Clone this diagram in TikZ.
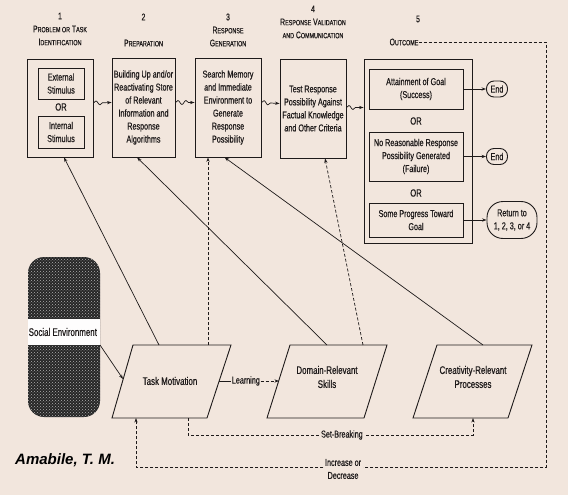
\documentclass[tikz,border=0pt]{standalone}
\usepackage{fontspec}
\setmainfont{Liberation Sans}
\newfontfamily\cond[FakeStretch=0.72,FakeBold=0.5]{Liberation Sans}
\usetikzlibrary{arrows.meta,calc,decorations.pathmorphing,patterns}
\definecolor{bg}{RGB}{242,230,221}
\definecolor{ink}{RGB}{30,26,26}
\newcommand\smc[2]{{\fontsize{9.5}{10}\selectfont #1}{\fontsize{7.5}{10}\selectfont #2}}
\begin{document}
\begin{tikzpicture}[x=1pt,y=-1pt,
  every node/.style={text=ink},
  tip/.style={-{Stealth[length=4.5pt,width=3.2pt]}},
  ln/.style={draw=ink, line width=0.7pt},
  dsh/.style={ln, dash pattern=on 3pt off 2pt},
  box/.style={draw=ink, line width=0.9pt, inner sep=0pt, align=center, font=\cond\fontsize{10}{13}\selectfont},
  hdr/.style={align=center, font=\cond\fontsize{9.5}{13}\selectfont, inner sep=0pt},
  txt/.style={align=center, font=\cond\fontsize{10.5}{13}\selectfont, inner sep=0pt},
  ptxt/.style={align=center, font=\cond\fontsize{11}{14}\selectfont, inner sep=0pt},
  lbl/.style={font=\cond\fontsize{10}{13}\selectfont, fill=bg, inner sep=1.5pt, align=center},
  wavy/.style={ln, tip, decorate, decoration={snake, amplitude=2pt, segment length=8pt, post length=6pt}},
  para/.style={draw=ink, line width=0.9pt}
]
\fill[bg] (0,0) rectangle (568,495);
\useasboundingbox (0,0) rectangle (568,495);

% headers
\node[hdr] (h1) at (60,29) {1\\\smc{P}{ROBLEM OR} \smc{T}{ASK}\\\smc{I}{DENTIFICATION}};
\node[hdr] (h2) at (143.5,30) {2\\[13pt]\smc{P}{REPARATION}};
\node[hdr] (h3) at (228,30) {3\\\smc{R}{ESPONSE}\\\smc{G}{ENERATION}};
\node[hdr] (h4) at (313,22) {4\\\smc{R}{ESPONSE} \smc{V}{ALIDATION}\\{\fontsize{7.5}{10}\selectfont AND} \smc{C}{OMMUNICATION}};
\node[hdr] (h5n) at (418,19) {5};
\node[hdr] (h5) at (404,42) {\smc{O}{UTCOME}};

% column boxes
\node[box, minimum width=66pt, minimum height=98pt] (b1) at (60,108) {};
\node[box, minimum width=46pt, minimum height=31pt] (ext) at (61,83.5) {External\\Stimulus};
\node[txt] (or1) at (61,107) {OR};
\node[box, minimum width=46pt, minimum height=32pt] (int) at (61,132) {Internal\\Stimulus};

\node[box, minimum width=63pt, minimum height=99pt] (b2) at (143.5,107.5) {Building Up and/or\\Reactivating Store\\of Relevant\\Information and\\Response\\Algorithms};
\node[box, minimum width=66pt, minimum height=99pt] (b3) at (228,107.5) {Search Memory\\and Immediate\\Environment to\\Generate\\Response\\Possibility};
\node[box, minimum width=66pt, minimum height=99pt] (b4) at (313,108.5) {Test Response\\Possibility Against\\Factual Knowledge\\and Other Criteria};

\node[box, minimum width=108pt, minimum height=184pt] (b5) at (418,151) {};
\node[box, minimum width=94pt, minimum height=40pt] (att) at (416,89) {Attainment of Goal\\(Success)};
\node[txt] (or2) at (416,121) {OR};
\node[box, minimum width=94pt, minimum height=49pt] (nor) at (416,156.5) {No Reasonable Response\\Possibility Generated\\(Failure)};
\node[txt] (or3) at (416,193) {OR};
\node[box, minimum width=94pt, minimum height=34pt] (prog) at (416,220) {Some Progress Toward\\Goal};

\node[box, rounded corners=7.5pt, minimum width=21pt, minimum height=16pt] (end1) at (497,89) {End};
\node[box, rounded corners=7.5pt, minimum width=21pt, minimum height=16pt] (end2) at (497,156.5) {End};
\node[box, rounded corners=16pt, minimum width=50pt, minimum height=37pt] (ret) at (512,220) {Return to\\1, 2, 3, or 4};

\draw[ln,tip] (att.east) -- (end1.west);
\draw[ln,tip] (nor.east) -- (end2.west);
\draw[ln,tip] (prog.east) -- (ret.west);

% wavy arrows
\draw[wavy] ([yshift=5pt]b1.east) -- ([yshift=5pt]b2.west);
\draw[wavy] ([yshift=5pt]b2.east) -- ([yshift=5pt]b3.west);
\draw[wavy] ([yshift=5pt]b3.east) -- ([yshift=5pt]b4.west);
\draw[wavy] ([yshift=1pt]b4.east) -- ([yshift=1pt]b4.east -| b5.west);

% social environment
\fill[black!85, rounded corners=16pt] (28,257) rectangle (100,417);
\fill[pattern=crosshatch dots, pattern color=gray!60, rounded corners=16pt] (28,257) rectangle (100,417);
\fill[white!94!bg] (28,319) rectangle (100,345);
\node[ptxt, anchor=west] (se) at (28.5,332) {Social Environment};
\coordinate (seBR) at (100,345);

% parallelograms
\draw[para] (112,418) -- (133,345) -- (231,345) -- (207,418) -- cycle;
\node[ptxt] (tm) at (170,381) {Task Motivation};
\draw[para] (267,418) -- (290,345) -- (387,345) -- (364,418) -- cycle;
\node[ptxt] (drs) at (327,377) {Domain-Relevant\\Skills};
\draw[para] (413,418) -- (437,345) -- (532,345) -- (508,418) -- cycle;
\node[ptxt] (crp) at (473,377) {Creativity-Relevant\\Processes};

\coordinate (tmT1) at (159,345);
\coordinate (tmT2) at (208,345);
\coordinate (drT1) at (327,345);
\coordinate (drT2) at (363,345);
\coordinate (crT1) at (483,345);
\coordinate (tmR) at (219,381);
\coordinate (drL) at (279,381);
\coordinate (tmL) at (123,379);
\coordinate (tmB1) at (136,418);
\coordinate (tmB2) at (188,418);
\coordinate (crB) at (473,418);
\coordinate (sbL) at (188,435);
\coordinate (sbR) at (473,435);
\coordinate (cTR) at (546,42);
\coordinate (cBR) at (546,467);
\coordinate (cBL) at (136,467);

% connectors to top boxes
\draw[ln,tip] (tmT1) -- ($(b1.south west)!0.56!(b1.south east)$);
\draw[dsh,tip] (tmT2) -- (tmT2 |- b3.south);
\draw[ln,tip] (drT1) -- ($(b2.south west)!0.4!(b2.south east)$);
\draw[dsh,tip] (drT2) -- ($(b4.south west)!0.68!(b4.south east)$);
\draw[ln,tip] (crT1) -- ($(b3.south west)!0.45!(b3.south east)$);

\draw[ln,tip] (seBR) -- (tmL);
\draw[ln] (tmR) -- node[lbl, pos=1, anchor=west, inner sep=0.5pt] (learn) {Learning} ($(tmR)!0.2!(drL)$);
\draw[dsh,tip] (learn.east) -- (drL);
\draw[dsh,tip] (tmB2) -- (sbL) -- node[lbl, pos=0.54] (sb) {Set-Breaking} (sbR) -- (crB);
\draw[dsh,tip] (h5.east) -- (cTR) -- (cBR) -- node[lbl, pos=0.495, yshift=-2pt] (incr) {Increase or\\Decrease} (cBL) -- (tmB1);

\node[font=\fontsize{15}{18}\selectfont\bfseries\itshape, anchor=west, inner sep=0pt, text=black] (auth) at (15,460) {Amabile, T. M.};
\end{tikzpicture}
\end{document}
